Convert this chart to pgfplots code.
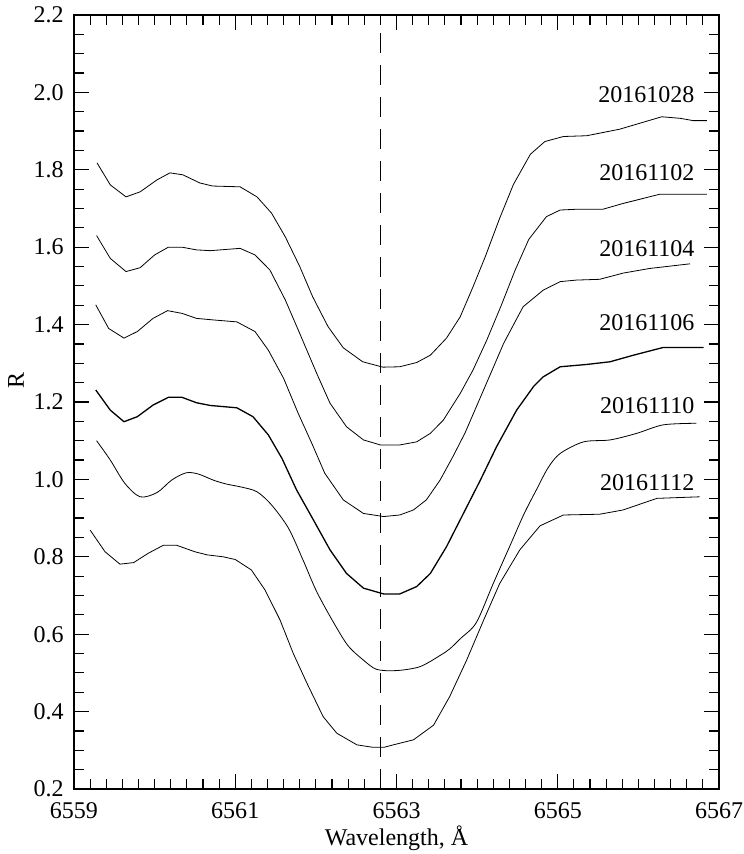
\documentclass[border=0pt]{standalone}
\usepackage{fontspec}
\setmainfont{Liberation Serif}
\newfontfamily\tnr{Liberation Serif}
\usepackage{pgfplots}
\pgfplotsset{compat=1.18}
\begin{document}
\tnr\fontsize{12}{14}\selectfont
\begin{tikzpicture}[font=\tnr\fontsize{12}{14}\selectfont]
\begin{axis}[
  at={(0,0)}, anchor=south west,
  scale only axis, width=322.5pt, height=387pt,
  xmin=6559, xmax=6567, ymin=0.2, ymax=2.2,
  xtick={6559,6561,6563,6565,6567},
  xticklabels={6559,6561,6563,6565,6567},
  minor x tick num=9,
  ytick={0.2,0.4,0.6,0.8,1.0,1.2,1.4,1.6,1.8,2.0,2.2},
  yticklabels={0.2,0.4,0.6,0.8,1.0,1.2,1.4,1.6,1.8,2.0,2.2},
  minor y tick num=3,
  tick align=inside,
  major tick length=7.5pt, minor tick length=5pt,
  tick style={black, line width=0.6pt},
  axis line style={black, line width=0.7pt},
  xticklabel style={anchor=base, yshift=-14.7pt, font=\tnr\fontsize{12}{14}\selectfont},
  yticklabel style={anchor=east, xshift=-1pt, font=\tnr\fontsize{12}{14}\selectfont},
  xlabel={Wavelength, Å},
  ylabel={R},
  xlabel style={at={(axis description cs:0.5,0)}, anchor=base, yshift=-28pt, font=\tnr\fontsize{12}{14}\selectfont},
  ylabel style={at={(axis description cs:-0.09,0.528)}, anchor=center, font=\tnr\fontsize{12}{14}\selectfont},
  cycle list={{black, no markers, solid, line width=0.65pt, smooth, tension=0.45}},
]
% 20161028
\addplot coordinates {
(6559.285,1.818) (6559.45,1.761) (6559.645,1.730) (6559.82,1.743) (6560.03,1.774)
(6560.19,1.792) (6560.35,1.787) (6560.56,1.766) (6560.72,1.758) (6561.06,1.756)
(6561.27,1.730) (6561.45,1.688) (6561.62,1.627) (6561.80,1.550) (6561.96,1.472)
(6562.15,1.395) (6562.34,1.340) (6562.58,1.304) (6562.83,1.290) (6563.04,1.291)
(6563.25,1.302) (6563.42,1.321) (6563.62,1.365) (6563.79,1.420) (6563.95,1.498)
(6564.10,1.575) (6564.28,1.675) (6564.45,1.762) (6564.66,1.840) (6564.84,1.873)
(6565.07,1.886) (6565.36,1.888) (6565.77,1.905) (6566.29,1.937) (6566.52,1.933)
(6566.68,1.927) (6566.85,1.927)
};
% 20161102
\addplot coordinates {
(6559.28,1.630) (6559.45,1.571) (6559.645,1.537) (6559.82,1.547) (6560.00,1.580)
(6560.17,1.600) (6560.34,1.600) (6560.52,1.593) (6560.69,1.591) (6561.06,1.597)
(6561.245,1.580) (6561.43,1.541) (6561.62,1.464) (6561.80,1.377) (6562.01,1.274)
(6562.175,1.197) (6562.38,1.136) (6562.59,1.102) (6562.80,1.089) (6563.04,1.089)
(6563.25,1.097) (6563.42,1.119) (6563.58,1.153) (6563.79,1.222) (6563.95,1.283)
(6564.12,1.360) (6564.30,1.450) (6564.47,1.540) (6564.64,1.620) (6564.86,1.679)
(6565.03,1.696) (6565.23,1.698) (6565.56,1.698) (6565.81,1.713) (6566.27,1.737)
(6566.85,1.737)
};
% 20161104
\addplot coordinates {
(6559.27,1.451) (6559.43,1.390) (6559.62,1.365) (6559.785,1.382) (6559.98,1.416)
(6560.16,1.436) (6560.34,1.429) (6560.52,1.416) (6560.73,1.412) (6561.02,1.407)
(6561.245,1.382) (6561.41,1.334) (6561.60,1.261) (6561.78,1.171) (6561.95,1.093)
(6562.11,1.016) (6562.34,0.947) (6562.59,0.912) (6562.84,0.904) (6563.04,0.908)
(6563.21,0.921) (6563.37,0.947) (6563.54,0.998) (6563.70,1.059) (6563.85,1.120)
(6564.08,1.231) (6564.33,1.352) (6564.57,1.446) (6564.82,1.489) (6565.03,1.511)
(6565.23,1.515) (6565.52,1.517) (6565.81,1.533) (6566.14,1.545) (6566.64,1.557)
};
% 20161106
\addplot coordinates {
(6559.27,1.231) (6559.45,1.179) (6559.62,1.149) (6559.785,1.162) (6559.98,1.192)
(6560.17,1.212) (6560.34,1.212) (6560.52,1.198) (6560.69,1.191) (6561.02,1.185)
(6561.22,1.162) (6561.41,1.115) (6561.58,1.054) (6561.76,0.973) (6561.97,0.895)
(6562.175,0.818) (6562.38,0.757) (6562.59,0.719) (6562.84,0.704) (6563.04,0.704)
(6563.25,0.723) (6563.42,0.757) (6563.62,0.826) (6563.83,0.912) (6564.04,0.998)
(6564.24,1.084) (6564.49,1.179) (6564.70,1.240) (6564.82,1.265) (6565.03,1.291)
(6565.36,1.297) (6565.65,1.304) (6565.94,1.321) (6566.31,1.341) (6566.81,1.341)
};
% 20161110
\addplot coordinates {
(6559.28,1.100) (6559.45,1.050) (6559.63,0.990) (6559.82,0.955) (6560.03,0.966)
(6560.21,0.998) (6560.39,1.017) (6560.54,1.014) (6560.73,0.998) (6560.89,0.988)
(6561.08,0.980) (6561.27,0.968) (6561.45,0.934) (6561.66,0.874) (6561.84,0.792)
(6562.01,0.710) (6562.22,0.630) (6562.40,0.570) (6562.59,0.533) (6562.755,0.509)
(6563.00,0.506) (6563.29,0.516) (6563.54,0.545) (6563.66,0.562) (6563.80,0.590)
(6563.99,0.630) (6564.20,0.731) (6564.40,0.825) (6564.58,0.910) (6564.74,0.975)
(6564.88,1.030) (6565.03,1.067) (6565.32,1.097) (6565.65,1.102) (6565.98,1.119)
(6566.31,1.141) (6566.72,1.145)
};
% 20161112
\addplot coordinates {
(6559.20,0.869) (6559.385,0.813) (6559.57,0.781) (6559.74,0.785) (6559.92,0.809)
(6560.11,0.830) (6560.27,0.830) (6560.50,0.813) (6560.65,0.805) (6560.85,0.800)
(6561.00,0.793) (6561.20,0.766) (6561.37,0.714) (6561.555,0.637) (6561.72,0.550)
(6561.89,0.473) (6562.09,0.387) (6562.26,0.344) (6562.51,0.314) (6562.70,0.308)
(6562.85,0.308) (6562.96,0.314) (6563.21,0.327) (6563.46,0.365) (6563.66,0.439)
(6563.87,0.533) (6564.08,0.636) (6564.28,0.731) (6564.53,0.818) (6564.78,0.880)
(6565.07,0.908) (6565.52,0.910) (6565.81,0.921) (6566.23,0.951) (6566.76,0.955)
};
% H-alpha rest wavelength
\addplot[black, no markers, line width=0.65pt, dash pattern=on 10pt off 6pt, sharp plot] coordinates {(6562.8,0.2) (6562.8,2.2)};
\node[anchor=east, inner sep=0pt] at (axis cs:6566.70,1.995) {20161028};
\node[anchor=east, inner sep=0pt] at (axis cs:6566.70,1.793) {20161102};
\node[anchor=east, inner sep=0pt] at (axis cs:6566.70,1.595) {20161104};
\node[anchor=east, inner sep=0pt] at (axis cs:6566.70,1.405) {20161106};
\node[anchor=east, inner sep=0pt] at (axis cs:6566.70,1.190) {20161110};
\node[anchor=east, inner sep=0pt] at (axis cs:6566.70,0.992) {20161112};
\end{axis}
\pgfresetboundingbox
\path (-37pt,-32.5pt) rectangle (334.5pt,394.5pt);
\end{tikzpicture}
\end{document}
